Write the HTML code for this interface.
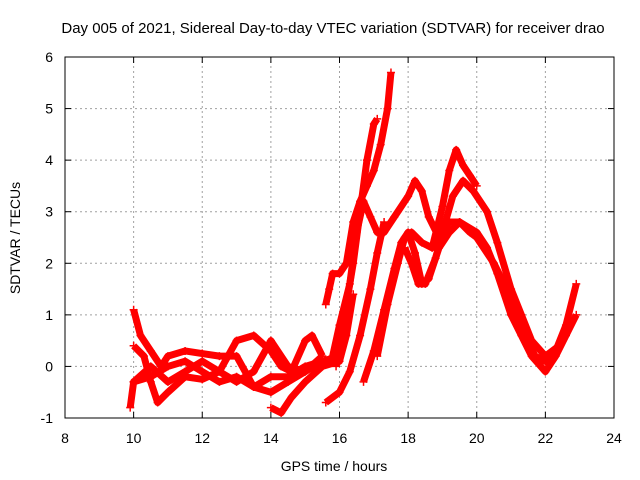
<!DOCTYPE html>
<html><head><meta charset="utf-8"><style>
body{margin:0;background:#fff}
svg{display:block;font-family:"Liberation Sans",sans-serif}
</style></head><body>
<svg id="chart" width="640" height="480">
<rect width="640" height="480" fill="#fff"/>
<g id="grid"></g>
<g id="series"></g>
<rect x="65" y="57" width="549" height="361" fill="none" stroke="#000" stroke-width="1"/>
<g id="ticks"></g>
<text x="333" y="33" text-anchor="middle" font-size="15">Day 005 of 2021, Sidereal Day-to-day VTEC variation (SDTVAR) for receiver drao</text>
<text x="334" y="471" text-anchor="middle" font-size="14">GPS time / hours</text>
<text transform="translate(20,238) rotate(-90)" text-anchor="middle" font-size="14">SDTVAR / TECUs</text>
</svg>
<script>
const xTicks=[8,10,12,14,16,18,20,22,24];
const yTicks=[-1,0,1,2,3,4,5,6];
const trackA=[[15.6,1.2],[15.7,1.5],[15.8,1.8],[16.0,1.8],[16.2,2.0],[16.4,2.8],[16.6,3.2],[16.8,3.5],[17.0,3.8],[17.2,4.3],[17.4,5.0],[17.5,5.7]];
const trackB=[[15.9,0.0],[16.0,0.3],[16.2,1.2],[16.4,2.0],[16.6,3.0],[16.8,4.0],[17.0,4.7],[17.1,4.8]];
const trackC=[[15.8,0.2],[16.0,0.8],[16.3,1.6],[16.5,2.6],[16.7,3.2],[16.9,2.9],[17.1,2.6],[17.3,2.6],[17.6,2.9],[18.0,3.3],[18.2,3.6],[18.4,3.4],[18.6,2.9],[18.9,2.5],[19.2,2.8],[19.5,2.8],[20.0,2.6],[20.3,2.3],[20.6,1.8],[21.0,1.0],[21.3,0.6],[21.6,0.2],[22.0,-0.1],[22.3,0.2],[22.6,0.6],[22.9,1.0]];
const trackD=[[16.7,-0.3],[17.0,0.3],[17.3,1.1],[17.6,1.9],[17.8,2.4],[18.0,2.6],[18.2,2.2],[18.4,1.6],[18.6,1.7],[18.9,2.3],[19.2,2.6],[19.5,2.8],[19.8,2.6],[20.0,2.5],[20.5,2.0],[20.8,1.6],[21.0,1.2],[21.4,0.6],[21.7,0.2],[22.0,0.1],[22.3,0.3],[22.6,0.8],[22.9,1.6]];
const trackE=[[17.1,0.2],[17.4,1.2],[17.7,2.0],[17.9,2.5],[18.1,2.6],[18.4,2.4],[18.7,2.3],[19.0,3.1],[19.2,3.8],[19.4,4.2],[19.6,3.9],[19.8,3.7],[20.0,3.5]];
const trackF=[[17.9,2.3],[18.1,2.0],[18.3,1.6],[18.5,1.6],[18.8,2.1],[19.0,2.6],[19.3,3.3],[19.6,3.6],[19.9,3.4],[20.3,3.0],[20.6,2.4],[21.0,1.5],[21.3,1.0],[21.6,0.5],[22.0,0.2],[22.4,0.4],[22.8,0.9]];
const trackG=[[9.9,-0.8],[10.0,-0.3],[10.5,-0.2],[11.0,0.0],[11.5,0.1],[12.0,-0.1],[12.5,-0.3],[13.0,-0.2],[13.5,-0.4],[14.0,-0.2],[14.5,-0.2],[15.0,0.0],[15.5,0.1],[16.0,0.2]];
const trackH=[[10.0,1.1],[10.2,0.6],[10.5,0.3],[10.8,0.0],[11.0,0.2],[11.5,0.3],[12.0,0.25],[12.5,0.2],[13.0,0.2],[13.5,-0.4],[14.0,-0.5],[14.5,-0.3],[15.0,-0.1],[15.5,0.1]];
const trackI=[[10.0,0.4],[10.3,0.2],[10.5,-0.3],[10.7,-0.7],[11.0,-0.5],[11.5,-0.2],[12.0,-0.25],[12.5,-0.1],[13.0,0.5],[13.5,0.6],[14.0,0.3],[14.3,0.0],[14.6,-0.1],[15.0,0.5],[15.2,0.6],[15.5,0.2]];
const trackJ=[[14.0,-0.8],[14.3,-0.9],[14.6,-0.6],[15.0,-0.3],[15.5,0.0],[16.0,0.1],[16.2,0.6],[16.4,1.4]];
const trackK=[[15.6,-0.7],[16.0,-0.5],[16.3,-0.1],[16.6,0.6],[16.9,1.5],[17.1,2.2],[17.3,2.8]];
const trackL=[[10.0,-0.3],[10.5,0.0],[11.0,-0.3],[11.5,-0.1],[12.0,0.1],[12.5,-0.1],[13.0,-0.3],[13.5,-0.1],[14.0,0.5],[14.5,0.0],[15.0,-0.1],[15.5,0.2]];
const tracks=[trackA,trackB,trackC,trackD,trackE,trackF,trackG,trackH,trackI,trackJ,trackK,trackL];
const X0=65,X1=614,Y0=418,Y1=57;
const xs=v=>X0+(v-8)/16*(X1-X0);
const ys=v=>Y0-(v+1)/7*(Y0-Y1);
const NS='http://www.w3.org/2000/svg';
const grid=document.getElementById('grid'),ticks=document.getElementById('ticks'),ser=document.getElementById('series');
function mk(t,a,p){const e=document.createElementNS(NS,t);for(const k in a)e.setAttribute(k,a[k]);p.appendChild(e);return e;}
xTicks.forEach(v=>{const x=xs(v);
 if(v>8&&v<24){const g=mk('line',{x1:x,x2:x,y1:Y0,y2:Y1,stroke:'#a0a0a0','stroke-dasharray':'2,3'},grid);
 
 }
 const t=mk('text',{x:x,y:443,'text-anchor':'middle','font-size':14},ticks);t.textContent=v;
 
 
 mk('line',{x1:x,x2:x,y1:Y0,y2:Y0-6,stroke:'#000'},ticks);mk('line',{x1:x,x2:x,y1:Y1,y2:Y1+6,stroke:'#000'},ticks);});
yTicks.forEach(v=>{const y=ys(v);
 if(v>-1&&v<6){const g=mk('line',{x1:X0,x2:X1,y1:y,y2:y,stroke:'#a0a0a0','stroke-dasharray':'2,3'},grid);
 
 }
 const t=mk('text',{x:53,y:y+5,'text-anchor':'end','font-size':14},ticks);t.textContent=v;
 
 
 mk('line',{x1:X0,x2:X0+6,y1:y,y2:y,stroke:'#000'},ticks);mk('line',{x1:X1,x2:X1-6,y1:y,y2:y,stroke:'#000'},ticks);});
tracks.forEach((tr,i)=>{
 const pl=mk('polyline',{points:tr.map(p=>xs(p[0])+','+ys(p[1])).join(' '),fill:'none',stroke:'#f00','stroke-width':7,'stroke-linejoin':'round'},ser);
 
 
 tr.forEach(p=>{const x=xs(p[0]),y=ys(p[1]);
  const m=mk('path',{d:`M${x-4},${y}H${x+4}M${x},${y-4}V${y+4}`,stroke:'#f00','stroke-width':1.5},ser);
  
  });
});
</script>
</body></html>
